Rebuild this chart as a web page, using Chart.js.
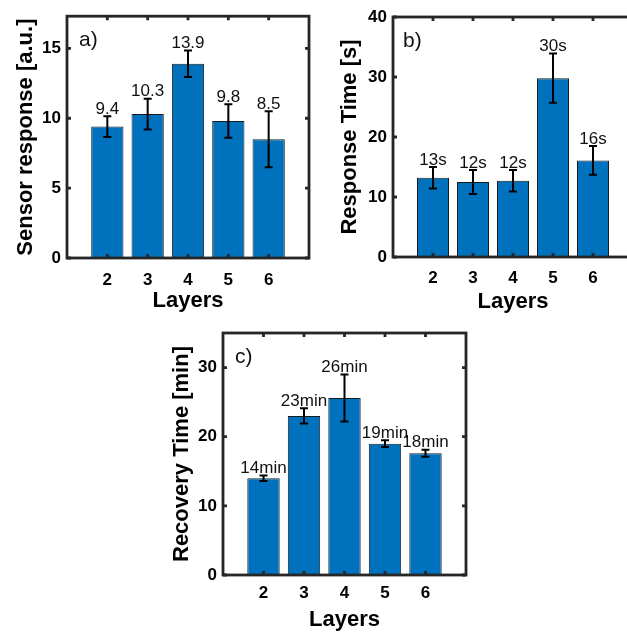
<!DOCTYPE html>
<html>
<head>
<meta charset="utf-8">
<script src="https://cdn.jsdelivr.net/npm/chart.js@4.4.0/dist/chart.umd.min.js"></script>
<style>
html, body { margin: 0; padding: 0; background: #fff; overflow: hidden; width: 627px; height: 632px; }
.panel { position: absolute; }
</style>
</head>
<body>
<div class="panel" style="left:0px;top:0px;width:320px;height:320px"><canvas id="sensor"></canvas></div>
<div class="panel" style="left:315px;top:0px;width:330px;height:320px"><canvas id="response"></canvas></div>
<div class="panel" style="left:160px;top:310px;width:320px;height:322px"><canvas id="recovery"></canvas></div>
<script>
// data
const layers = [2, 3, 4, 5, 6];

const sensorResp = [9.4, 10.3, 13.9, 9.8, 8.5];
const sensorErr = [0.75, 1.1, 0.95, 1.2, 2.0];
const sensorText = ['9.4', '10.3', '13.9', '9.8', '8.5'];
const sensorTicks = [0, 5, 10, 15];

const respTime = [13.2, 12.5, 12.7, 29.8, 16.1];
const respErr = [1.8, 2.0, 1.8, 4.1, 2.4];
const respText = ['13s', '12s', '12s', '30s', '16s'];
const respTicks = [0, 10, 20, 30, 40];

const recTime = [14.0, 23.0, 25.6, 19.0, 17.6];
const recErr = [0.4, 1.1, 3.4, 0.5, 0.5];
const recText = ['14min', '23min', '26min', '19min', '18min'];
const recTicks = [0, 10, 20, 30];

const FONT = '"Liberation Sans", Arial, Helvetica, sans-serif';
Chart.defaults.font.family = FONT;

// matlab style box, inward ticks, error bars and value labels
const matlabAxes = {
    id: 'matlabAxes',
    afterDatasetsDraw(chart) {
        const p = chart.options.plugins.matlabAxes;
        const {ctx, chartArea: a, scales: {x, y}} = chart;
        ctx.save();

        // error bars
        ctx.strokeStyle = '#000';
        ctx.lineWidth = 2;
        p.values.forEach((v, i) => {
            const px = x.getPixelForValue(layers[i]);
            const top = y.getPixelForValue(v + p.errs[i]);
            const bot = y.getPixelForValue(v - p.errs[i]);
            ctx.beginPath();
            ctx.moveTo(px, top); ctx.lineTo(px, bot);
            ctx.moveTo(px - 4, top); ctx.lineTo(px + 4, top);
            ctx.moveTo(px - 4, bot); ctx.lineTo(px + 4, bot);
            ctx.stroke();
        });

        // value labels
        ctx.fillStyle = '#111';
        ctx.font = '17px ' + FONT;
        ctx.textAlign = 'center';
        ctx.textBaseline = 'alphabetic';
        p.values.forEach((v, i) => {
            const px = x.getPixelForValue(layers[i]);
            const top = y.getPixelForValue(v + p.errs[i]);
            ctx.fillText(p.text[i], px, top - 2.5);
        });

        // box
        ctx.strokeStyle = '#262626';
        ctx.lineWidth = 2.8;
        ctx.strokeRect(a.left, a.top, a.right - a.left, a.bottom - a.top);
        ctx.beginPath();
        x.ticks.forEach(t => {
            const px = x.getPixelForValue(t.value);
            ctx.moveTo(px, a.bottom); ctx.lineTo(px, a.bottom - 4);
            ctx.moveTo(px, a.top); ctx.lineTo(px, a.top + 4);
        });
        y.ticks.forEach(t => {
            const py = y.getPixelForValue(t.value);
            ctx.moveTo(a.left, py); ctx.lineTo(a.left + 4, py);
            ctx.moveTo(a.right, py); ctx.lineTo(a.right - 4, py);
        });
        ctx.stroke();

        // panel letter
        ctx.fillStyle = '#111';
        ctx.font = '21px ' + FONT;
        ctx.textAlign = 'left';
        ctx.textBaseline = 'middle';
        ctx.fillText(p.letter, a.left + p.letterX, a.top + 24);
        ctx.restore();
    }
};

function panel(id, values, errs, text, yMax, yTicks, yTitle, letter, g) {
    return new Chart(document.getElementById(id), {
        type: 'bar',
        data: {
            datasets: [{
                data: layers.map((l, i) => ({x: l, y: values[i]})),
                backgroundColor: '#0072BD',
                borderColor: '#1a1a1a',
                borderWidth: 1,
                barPercentage: 0.8,
                categoryPercentage: 1
            }]
        },
        options: {
            responsive: true,
            maintainAspectRatio: false,
            animation: false,
            layout: {padding: {left: 0, top: g.top, right: g.right, bottom: 0}},
            plugins: {
                legend: {display: false},
                tooltip: {enabled: false},
                matlabAxes: {values: values, errs: errs, text: text, letter: letter, letterX: g.letterX}
            },
            scales: {
                x: {
                    type: 'linear',
                    min: 1,
                    max: 7,
                    offset: false,
                    afterBuildTicks: s => { s.ticks = layers.map(v => ({value: v})); },
                    afterFit: s => { s.height = g.xH; },
                    grid: {display: false, drawTicks: false},
                    border: {display: false},
                    ticks: {padding: g.xPad, maxRotation: 0, color: '#000', font: {size: 17, weight: 'bold'}},
                    title: {display: true, text: 'Layers', color: '#000',
                        font: {size: 22, weight: 'bold', lineHeight: 1}, padding: {top: 0, bottom: g.xtPad}}
                },
                y: {
                    min: 0,
                    max: yMax,
                    afterBuildTicks: s => { s.ticks = yTicks.map(v => ({value: v})); },
                    afterFit: s => { s.width = g.yW; },
                    grid: {display: false, drawTicks: false},
                    border: {display: false},
                    ticks: {padding: 6, color: '#000', font: {size: 17, weight: 'bold'}},
                    title: {display: true, text: yTitle, color: '#000',
                        font: {size: 22, weight: 'bold', lineHeight: 1}, padding: {top: g.ytPad, bottom: 0}}
                }
            }
        },
        plugins: [matlabAxes]
    });
}

panel('sensor', sensorResp, sensorErr, sensorText, 17.3, sensorTicks, 'Sensor response [a.u.]', 'a)',
    {top: 16, right: 11, yW: 67, xH: 62, xPad: 12.5, xtPad: 8, ytPad: 15, letterX: 12});
panel('response', respTime, respErr, respText, 40, respTicks, 'Response Time [s]', 'b)',
    {top: 17, right: 12, yW: 78, xH: 63, xPad: 11.5, xtPad: 7, ytPad: 24, letterX: 10});
panel('recovery', recTime, recErr, recText, 35, recTicks, 'Recovery Time [min]', 'c)',
    {top: 23, right: 14, yW: 63, xH: 57, xPad: 8, xtPad: 1, ytPad: 11, letterX: 12});
</script>
</body>
</html>
